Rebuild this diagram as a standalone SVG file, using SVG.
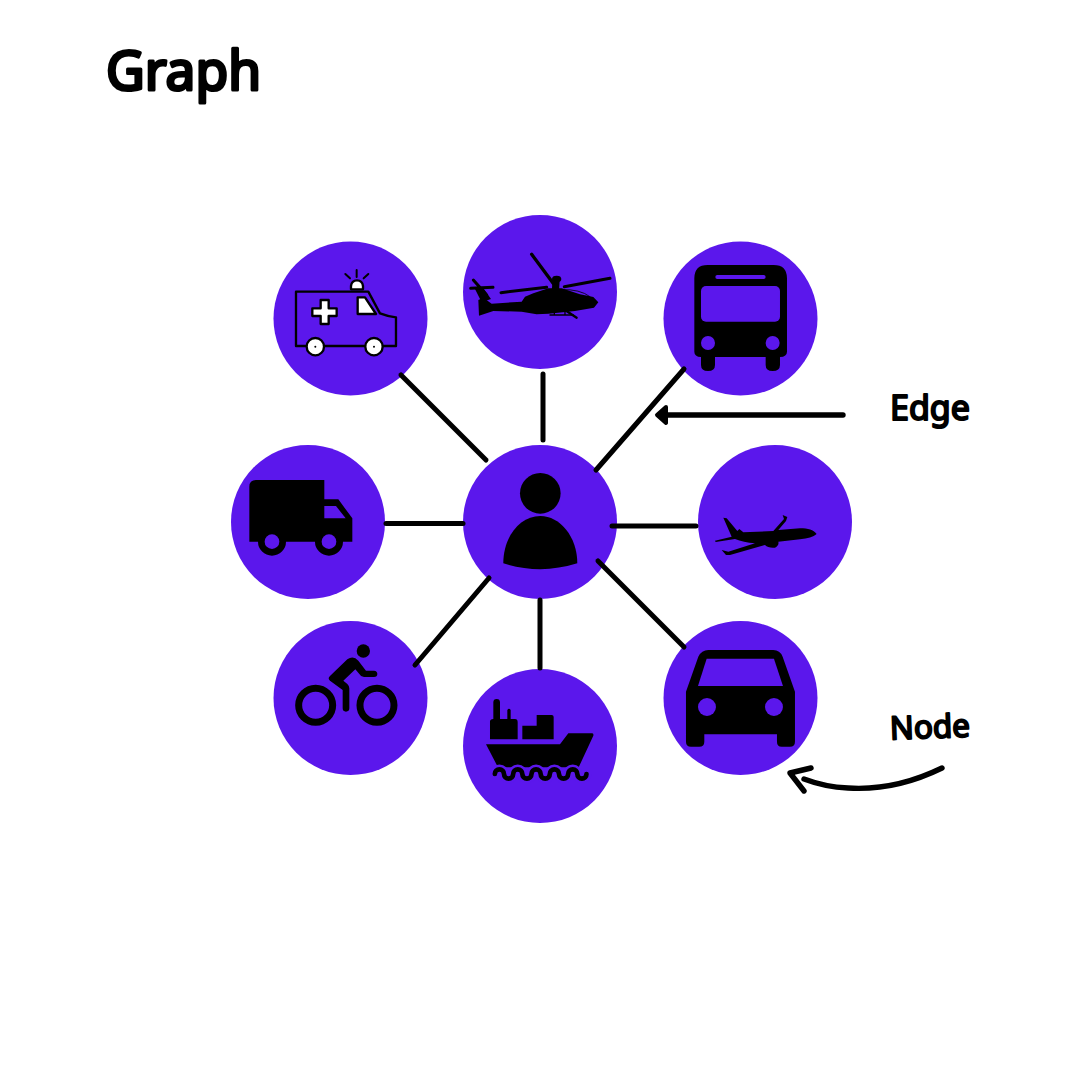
<svg xmlns="http://www.w3.org/2000/svg" width="1080" height="1080" viewBox="0 0 1080 1080">
<style>
.disc{fill:#5b17ec}
.ink{fill:#000}
.cut{fill:#5b17ec}
.edge{stroke:#000;stroke-width:5;stroke-linecap:round;fill:none}
.hand{stroke:#000;stroke-width:5.4;stroke-linecap:round;stroke-linejoin:round;fill:none}
.label{font-family:"Noto Sans","DejaVu Sans",sans-serif;font-weight:400;fill:#000;stroke:#000;stroke-linejoin:round;stroke-linecap:round}
.white{fill:#fff;stroke:#000;stroke-width:7;stroke-linejoin:round}
.line{fill:none;stroke:#000;stroke-linecap:round;stroke-linejoin:round}
</style>
<rect width="1080" height="1080" fill="#fff"/>
<g id="node-ambulance">
<circle class="disc" cx="350.5" cy="318.5" r="77"/>
<g transform="translate(270 210) scale(.3333)">
<path class="line" stroke-width="7" d="M78 408V245H295L330 310Q350 318 378 322V408Z"/>
<path class="white" d="M263 262H285L318 312H263Z"/>
<path class="white" d="M152 270H176V295H200V318H176V342H152V318H127V295H152Z"/>
<path class="white" d="M243 238V228Q245 211 261 211Q277 211 279 228V238Z"/>
<path class="line" stroke-width="6" d="M260 180V201M226 192L240 205M295 192L281 205"/>
<circle class="white" cx="136" cy="410" r="26"/>
<circle class="white" cx="312" cy="410" r="26"/>
<circle class="ink" cx="136" cy="410" r="3"/>
<circle class="ink" cx="312" cy="410" r="3"/>
</g>
</g>
<g id="node-helicopter">
<circle class="disc" cx="540" cy="292" r="77"/>
<g transform="translate(465 245) scale(.3333)">
<path class="ink" d="M40 165L55 158 80 176 170 170 180 155 205 145 250 130 290 130 345 148 385 156 400 172 387 188 330 198 250 206 215 208 170 200 85 198 42 212Z"/>
<path class="ink" d="M28 128L52 125 78 162 50 172Z"/>
<ellipse class="ink" cx="275" cy="102" rx="14" ry="10"/>
<path class="ink" d="M263 105H284L282 140H260Z"/>
<path class="line" stroke-width="10" d="M200 28L270 122"/>
<path class="line" stroke-width="9" d="M108 143L245 127M298 125L435 100"/>
<path class="line" stroke-width="9" d="M25 105L65 150M17 130L84 127"/>
<path class="line" stroke-width="7" d="M300 195L335 218"/>
<path class="line" stroke-width="4" d="M255 210H325M268 200V210M300 200V210"/>
<path class="line" stroke-width="2.5" d="M290 134Q345 132 375 155"/>
</g>
</g>
<g id="node-bus">
<circle class="disc" cx="740.5" cy="318.5" r="77"/>
<g transform="translate(660 240) scale(.3333)">
<path class="ink" d="M103 115Q103 75 143 75H341Q381 75 381 115V335Q381 350 360 351V375Q360 393 338 393Q317 393 317 375V351H165V375Q165 393 144 393Q123 393 123 375V351Q103 350 103 335Z"/>
<rect class="cut" x="123" y="138" width="237" height="107" rx="15"/>
<rect class="cut" x="166" y="105" width="151" height="12" rx="6"/>
<circle class="cut" cx="144" cy="309" r="21"/>
<circle class="cut" cx="338" cy="309" r="21"/>
</g>
</g>
<g id="node-truck">
<circle class="disc" cx="308" cy="522" r="77"/>
<g transform="translate(230 440) scale(.3333)">
<path class="ink" d="M58 140Q58 120 78 120H283V178H325L367 235V305H339A42 42 0 0 1 255 305H168A42 42 0 0 1 84 305H58Z"/>
<path class="cut" d="M283 198H318L347 235H283Z"/>
<circle class="cut" cx="126" cy="305" r="22"/>
<circle class="cut" cx="297" cy="305" r="22"/>
</g>
</g>
<g id="node-person">
<circle class="disc" cx="540" cy="522" r="77"/>
<g transform="translate(230 440) scale(.3333)">
<circle class="ink" cx="931" cy="160" r="61"/>
<path class="ink" d="M820 370C820 290 870 228 931 228C990 228 1042 290 1042 370Q931 405 820 370Z"/>
</g>
</g>
<g id="node-plane">
<circle class="disc" cx="775" cy="522" r="77"/>
<g transform="translate(710 505) scale(.3333)">
<path class="ink" d="M320 87C310 75 295 70 270 70L205 75 228 48 232 36 218 30 222 42 190 78 100 82 88 72 82 78 50 40 40 38 65 95 15 107 17 111 75 102Q100 112 135 115L55 140 35 135 48 150H60L165 120Q175 130 195 128 208 122 205 110L270 103Q305 100 320 87Z"/>
</g>
</g>
<g id="node-bicycle">
<circle class="disc" cx="350.5" cy="698" r="77"/>
<g transform="translate(230 440) scale(.3333)">
<circle class="line" stroke-width="21" cx="257" cy="796" r="51"/>
<circle class="line" stroke-width="21" cx="441" cy="796" r="51"/>
</g>
<g transform="translate(320 640) scale(.3333)">
<circle class="ink" cx="130" cy="33" r="20"/>
<path class="ink" d="M30 108L82 58Q100 45 115 62L138 92H162Q172 93 172 102 172 111 162 111H132Q122 110 118 102L106 88 70 122 82 132Q88 138 88 145V205Q88 215 78 215 68 215 68 205V150L30 122Q22 115 30 108Z"/>
</g>
</g>
<g id="node-ship">
<circle class="disc" cx="540" cy="746" r="77"/>
<g transform="translate(480 695) scale(.3333)">
<path class="ink" d="M18 148H240L265 115H335Q342 115 340 122L296 217H54Z"/>
<path class="ink" d="M30 133V80Q30 72 40 72V22Q40 12 50 12 60 12 60 22V72H82V45Q87 38 92 45V72H105Q113 72 113 82V133Z"/>
<path class="ink" d="M127 133V92H170V60H215Q221 60 221 66V133Z"/>
<path d="M44.5 237A13.75 13.75 0 0 1 72 237A13.75 13.75 0 0 0 99.5 237A13.75 13.75 0 0 1 127 237A13.75 13.75 0 0 0 154.5 237A13.75 13.75 0 0 1 182 237A13.75 13.75 0 0 0 209.5 237A13.75 13.75 0 0 1 237 237A13.75 13.75 0 0 0 264.5 237A13.75 13.75 0 0 1 292 237A13.75 13.75 0 0 0 319.5 237" fill="none" stroke="#5b17ec" stroke-width="30"/>
<path class="line" stroke-width="14" d="M44.5 237A13.75 13.75 0 0 1 72 237A13.75 13.75 0 0 0 99.5 237A13.75 13.75 0 0 1 127 237A13.75 13.75 0 0 0 154.5 237A13.75 13.75 0 0 1 182 237A13.75 13.75 0 0 0 209.5 237A13.75 13.75 0 0 1 237 237A13.75 13.75 0 0 0 264.5 237A13.75 13.75 0 0 1 292 237A13.75 13.75 0 0 0 319.5 237"/>
</g>
</g>
<g id="node-car">
<circle class="disc" cx="740.5" cy="698" r="77"/>
<g transform="translate(460 620) scale(.3333)">
<path class="ink" d="M678 215L715 110Q725 90 745 90H940Q960 90 968 110L1005 215V365Q1005 380 990 380H965Q951 380 951 365V343H733V365Q733 380 718 380H693Q678 380 678 365Z"/>
<path class="cut" d="M740 116H942L969 198H714Z"/>
<circle class="cut" cx="741" cy="261" r="27"/>
<circle class="cut" cx="942" cy="261" r="27"/>
</g>
</g>
<g id="connectors">
<line class="edge" x1="401" y1="375" x2="486" y2="460"/>
<line class="edge" x1="543" y1="374" x2="543" y2="440"/>
<line class="edge" x1="684" y1="369" x2="596" y2="470"/>
<line class="edge" x1="386" y1="523.5" x2="463" y2="523.5"/>
<line class="edge" x1="612" y1="526" x2="696" y2="526"/>
<line class="edge" x1="598" y1="561" x2="684" y2="647"/>
<line class="edge" x1="540" y1="600" x2="540" y2="668"/>
<line class="edge" x1="489" y1="578" x2="415" y2="665"/>
</g>
<g id="annotations">
<text class="label" x="106" y="90" font-size="54" stroke-width="3.2" textLength="155" lengthAdjust="spacingAndGlyphs">Graph</text>
<text class="label" x="890" y="420" font-size="35" stroke-width="2" textLength="80" lengthAdjust="spacingAndGlyphs">Edge</text>
<text class="label" x="890" y="738" font-size="32" stroke-width="2" textLength="80" lengthAdjust="spacingAndGlyphs" transform="rotate(-2 930 730)">Node</text>
<line class="hand" x1="843" y1="415" x2="664" y2="415"/>
<path class="ink" d="M666 407L657 415 666 423Z" stroke="#000" stroke-width="4" stroke-linejoin="round"/>
<path class="hand" d="M942 768Q895 791 848 788Q825 787 804 779"/>
<path class="hand" d="M811 768L790 773 804 791"/>
</g>
</svg>
